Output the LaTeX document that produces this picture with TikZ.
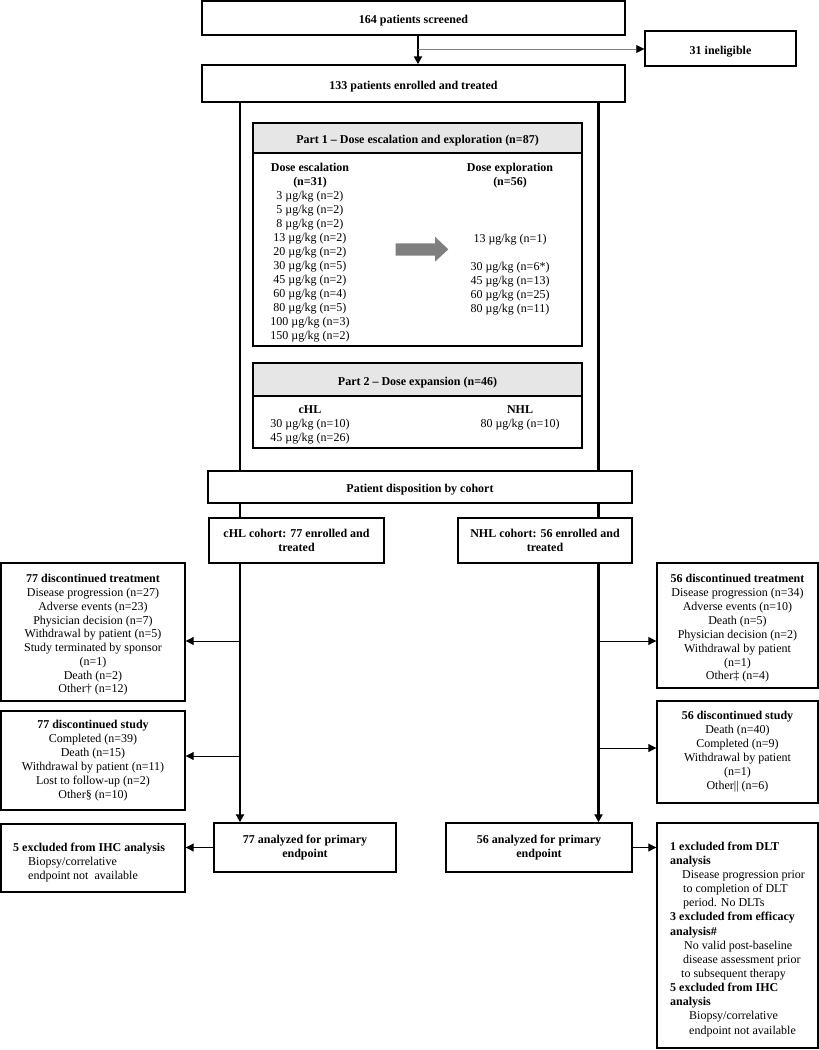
\documentclass[tikz,border=0pt]{standalone}
\usepackage{fontspec}
\setmainfont{Liberation Serif}
\usetikzlibrary{arrows.meta}
\definecolor{hdrgray}{HTML}{E6E6E6}
\definecolor{arrowgray}{HTML}{7F7F7F}
\definecolor{thingray}{HTML}{808080}
\begin{document}
\begin{tikzpicture}[x=1pt,y=-1pt,
  every node/.style={font=\fontsize{12}{14}\selectfont, inner sep=0pt},
  box/.style={draw=black, line width=1.4pt, align=center, execute at begin node={\rule{0pt}{14pt}}},
  hdr/.style={box, fill=hdrgray},
  txt/.style={align=center},
  ltxt/.style={align=left, anchor=north west},
  frameline/.style={line width=2.6pt},
  mainarrow/.style={line width=2.6pt, -{Triangle[length=8pt,width=8pt]}},
  sidearrow/.style={line width=1pt, -{Triangle[length=8pt,width=8pt]}},
  thinarrow/.style={line width=0.7pt, draw=thingray, -{Triangle[length=8pt,width=8pt,fill=black,color=black]}}
]
\useasboundingbox (0,0) rectangle (819,1050);

% top boxes
\node[box, minimum width=423pt, minimum height=34pt] (screened) at (413.5,18) {\textbf{164 patients screened}};
\node[box, minimum width=151pt, minimum height=35pt] (inelig) at (720.5,48.5) {\textbf{31 ineligible}};
\node[box, minimum width=423pt, minimum height=37pt] (enrolled) at (413.5,83.5) {\textbf{133 patients enrolled and treated}};

\coordinate (b0) at (418,49);
\coordinate (Lx) at (240,0);
\coordinate (Rx) at (598.5,0);

% Part 1
\node[hdr, minimum width=329pt, minimum height=30pt] (p1h) at (417.5,138) {\textbf{Part 1 – Dose escalation and exploration (n=87)}};
\node[box, minimum width=329pt, minimum height=193pt] (p1b) at (417.5,249.5) {};
\node[txt] (esc) at (310,253) {\textbf{Dose escalation}\\\textbf{(n=31)}\\3 µg/kg (n=2)\\5 µg/kg (n=2)\\8 µg/kg (n=2)\\13 µg/kg (n=2)\\20 µg/kg (n=2)\\30 µg/kg (n=5)\\45 µg/kg (n=2)\\60 µg/kg (n=4)\\80 µg/kg (n=5)\\100 µg/kg (n=3)\\150 µg/kg (n=2)};
\node[txt] (explh) at (510,176) {\textbf{Dose exploration}\\\textbf{(n=56)}};
\node[txt] (explA) at (510,240) {13 µg/kg (n=1)};
\node[txt] (explB) at (510,289) {30 µg/kg (n=6*)\\45 µg/kg (n=13)\\60 µg/kg (n=25)\\80 µg/kg (n=11)};
\fill[arrowgray] (395.7,243.3) -- (435,243.3) -- (435,236.7) -- (448.3,249.3) -- (435,261.7) -- (435,255.7) -- (395.7,255.7) -- cycle;

% Part 2
\node[hdr, minimum width=329pt, minimum height=33pt] (p2h) at (417.5,379.5) {\textbf{Part 2 – Dose expansion (n=46)}};
\node[box, minimum width=329pt, minimum height=52pt] (p2b) at (417.5,422) {};
\node[txt] (chlt) at (310,425) {\textbf{cHL}\\30 µg/kg (n=10)\\45 µg/kg (n=26)};
\node[txt] (nhlt) at (520,418) {\textbf{NHL}\\80 µg/kg (n=10)};

% disposition
\node[box, minimum width=424pt, minimum height=32pt] (disp) at (420,487) {\textbf{Patient disposition by cohort}};
\node[box, minimum width=175pt, minimum height=45pt] (chl) at (296.5,540.5) {\textbf{cHL cohort: 77 enrolled and}\\\textbf{treated}};
\node[box, minimum width=174pt, minimum height=45pt] (nhl) at (545,540.5) {\textbf{NHL cohort: 56 enrolled and}\\\textbf{treated}};

% left side
\node[box, minimum width=184pt, minimum height=138pt] (ldt) at (93,632) {};
\node[txt, font=\fontsize{12}{13.75}\selectfont] (ldtt) at (93,635) {\textbf{77 discontinued treatment}\\Disease progression (n=27)\\Adverse events (n=23)\\Physician decision (n=7)\\Withdrawal by patient (n=5)\\Study terminated by sponsor\\(n=1)\\Death (n=2)\\Other† (n=12)};
\node[box, minimum width=184pt, minimum height=99pt] (lds) at (93,760.5) {\textbf{77 discontinued study}\\Completed (n=39)\\Death (n=15)\\Withdrawal by patient (n=11)\\Lost to follow-up (n=2)\\Other§ (n=10)};
\node[box, minimum width=184pt, minimum height=68pt] (lihc) at (93,858) {};
\node[ltxt] (lihct) at (13,842.5) {\textbf{5 excluded from IHC analysis}\\\hspace*{15pt}Biopsy/correlative\\\hspace*{15pt}endpoint not\ \ available};
\node[box, minimum width=182pt, minimum height=49pt] (chla) at (305,847.5) {\textbf{77 analyzed for primary}\\\textbf{endpoint}};

% right side
\node[box, minimum width=161pt, minimum height=125pt] (rdt) at (737.5,625.5) {};
\node[txt, font=\fontsize{12}{13.86}\selectfont] (rdtt) at (737.5,628.5) {\textbf{56 discontinued treatment}\\Disease progression (n=34)\\Adverse events (n=10)\\Death (n=5)\\Physician decision (n=2)\\Withdrawal by patient\\(n=1)\\Other‡ (n=4)};
\node[box, minimum width=161pt, minimum height=102pt] (rds) at (737.5,752) {\textbf{56 discontinued study}\\Death (n=40)\\Completed (n=9)\\Withdrawal by patient\\(n=1)\\Other|| (n=6)};
\node[box, minimum width=186pt, minimum height=49pt] (nhla) at (539,847.5) {\textbf{56 analyzed for primary}\\\textbf{endpoint}};
\node[box, minimum width=161pt, minimum height=225pt] (rex) at (737.5,935.5) {};
\node[ltxt, font=\fontsize{12}{14.15}\selectfont] (rext) at (670,841.5) {\textbf{1 excluded from DLT}\\\textbf{analysis}\\\hspace*{12pt}Disease progression prior\\\hspace*{13pt}to completion of DLT\\\hspace*{13pt}period. No DLTs\\\textbf{3 excluded from efficacy}\\\textbf{analysis\#}\\\hspace*{14pt}No valid post-baseline\\\hspace*{13pt}disease assessment prior\\\hspace*{11pt}to subsequent therapy\\\textbf{5 excluded from IHC}\\\textbf{analysis}\\\hspace*{19pt}Biopsy/correlative\\\hspace*{19pt}endpoint not available};

% connectors
\draw[mainarrow] (screened.south -| b0) -- (enrolled.north -| b0);
\draw[thinarrow] (b0) -- (b0 -| inelig.west);
\draw[frameline] (enrolled.south -| Lx) -- (disp.north -| Lx);
\draw[frameline] (enrolled.south -| Rx) -- (disp.north -| Rx);
\draw[frameline] (disp.south -| Lx) -- (chl.north -| Lx);
\draw[frameline] (disp.south -| Rx) -- (nhl.north -| Rx);
\draw[mainarrow] (chl.south -| Lx) -- (chla.north -| Lx);
\draw[mainarrow] (nhl.south -| Rx) -- (nhla.north -| Rx);

\coordinate (a1) at (240,641);
\coordinate (a2) at (240,756);
\coordinate (a3) at (598.5,641);
\coordinate (a4) at (598.5,748);
\draw[sidearrow] (a1) -- (a1 -| ldt.east);
\draw[sidearrow] (a2) -- (a2 -| lds.east);
\draw[sidearrow] (a3) -- (a3 -| rdt.west);
\draw[sidearrow] (a4) -- (a4 -| rds.west);
\draw[sidearrow] (chla.west) -- (chla.west -| lihc.east);
\draw[sidearrow] (nhla.east) -- (nhla.east -| rex.west);
\end{tikzpicture}
\end{document}
